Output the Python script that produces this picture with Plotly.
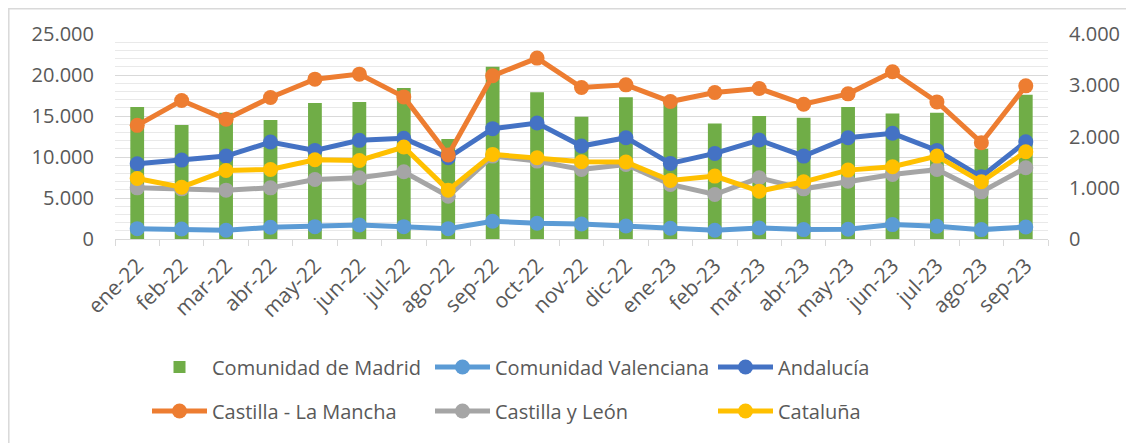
import plotly.graph_objects as go

months = ["ene-22", "feb-22", "mar-22", "abr-22", "may-22", "jun-22", "jul-22", "ago-22",
          "sep-22", "oct-22", "nov-22", "dic-22", "ene-23", "feb-23", "mar-23", "abr-23",
          "may-23", "jun-23", "jul-23", "ago-23", "sep-23"]

madrid = [16100, 13900, 15400, 14500, 16600, 16700, 18400, 12200, 21000, 17900, 14900,
          17300, 16600, 14100, 15000, 14800, 16100, 15300, 15400, 11000, 17600]
valenciana = [202, 196, 170, 228, 241, 274, 241, 202, 346, 307, 294, 254, 209, 170,
              215, 183, 189, 281, 248, 183, 235]
andalucia = [1468, 1540, 1618, 1892, 1729, 1925, 1964, 1586, 2153, 2264, 1814, 1977,
             1475, 1670, 1931, 1618, 1977, 2062, 1729, 1214, 1899]
castilla_lm = [2218, 2701, 2336, 2760, 3119, 3217, 2773, 1638, 3184, 3530, 2956, 3008,
               2682, 2858, 2936, 2630, 2832, 3263, 2675, 1879, 2988]
castilla_leon = [998, 979, 953, 998, 1161, 1194, 1312, 835, 1618, 1520, 1357, 1455,
                 1064, 868, 1194, 979, 1129, 1259, 1357, 920, 1390]
cataluna = [1181, 1011, 1338, 1357, 1546, 1533, 1794, 953, 1651, 1586, 1507, 1501,
            1142, 1227, 933, 1116, 1344, 1409, 1618, 1116, 1703]

FONT = "Open Sans"
TXT = "#595959"

fig = go.Figure()
fig.add_trace(go.Bar(x=months, y=madrid, name="Comunidad de Madrid", marker_color="#70AD47",
                     marker_line_width=0, legend="legend", yaxis="y"))

line_series = [
    ("Comunidad Valenciana", valenciana, "#5B9BD5", "legend"),
    ("Andalucía", andalucia, "#4472C4", "legend"),
    ("Castilla - La Mancha", castilla_lm, "#ED7D31", "legend2"),
    ("Castilla y León", castilla_leon, "#A5A5A5", "legend2"),
    ("Cataluña", cataluna, "#FFC000", "legend2"),
]
for name, vals, col, lg in line_series:
    fig.add_trace(go.Scatter(x=months, y=vals, name=name, mode="lines+markers",
                             line=dict(color=col, width=5),
                             marker=dict(color=col, size=15),
                             yaxis="y2", legend=lg))

# the page body adds an 8px offset; positions below are in figure pixels
OFF = 8
W, H = 1134, 443
L, R, T, B = 115 - OFF, 1048 - OFF, 34 - OFF, 239 - OFF
pw, ph = R - L, B - T

def px(x):
    return (x - L) / pw

def py(y):
    return (B - y) / ph

legend_common = dict(orientation="h", xref="container", yref="container",
                     xanchor="left", yanchor="middle", entrywidth=213,
                     entrywidthmode="pixels", itemwidth=55,
                     font=dict(family=FONT, size=20, color=TXT),
                     bgcolor="rgba(0,0,0,0)", traceorder="normal")

fig.update_layout(
    width=W, height=H,
    margin=dict(l=L, r=W - R, t=T, b=H - B, autoexpand=False),
    paper_bgcolor="white", plot_bgcolor="white",
    separators=",.",
    font=dict(family=FONT, size=20, color=TXT),
    bargap=0.69,
    xaxis=dict(type="category", range=[-0.5, len(months) - 0.5], showgrid=False,
               showline=True, linecolor="#D9D9D9",
               linewidth=1.3, ticks="outside", tickson="boundaries", ticklen=6,
               tickcolor="#D9D9D9", tickangle=-45, automargin=False,
               ticklabelstandoff=5,
               tickfont=dict(family=FONT, size=21, color=TXT)),
    yaxis=dict(range=[0, 25000], dtick=5000, tickformat=",d", showgrid=True,
               gridcolor="#D9D9D9", gridwidth=1.3, zeroline=False, showline=False,
               ticklabelstandoff=20, automargin=False,
               tickfont=dict(family=FONT, size=20, color=TXT),
               minor=dict(dtick=1000, showgrid=True, gridcolor="#E9E9E9", gridwidth=1.3)),
    yaxis2=dict(range=[0, 4000], dtick=1000, tickformat=",d", overlaying="y", side="right",
                showgrid=False, zeroline=False, showline=False, ticklabelstandoff=20,
                automargin=False,
                tickfont=dict(family=FONT, size=20, color=TXT)),
    legend=dict(x=(147 - OFF) / W, y=1 - (367 - OFF) / H, **legend_common),
    legend2=dict(x=(147 - OFF) / W, y=1 - (411 - OFF) / H, **legend_common),
    showlegend=True,
    shapes=[dict(type="rect", xref="paper", yref="paper", x0=px(0.8), x1=px(1145),
                 y0=py(460), y1=py(0.8), line=dict(color="#D9D9D9", width=1.5),
                 fillcolor="rgba(0,0,0,0)", layer="below")],
)

fig.write_html("out.html")
